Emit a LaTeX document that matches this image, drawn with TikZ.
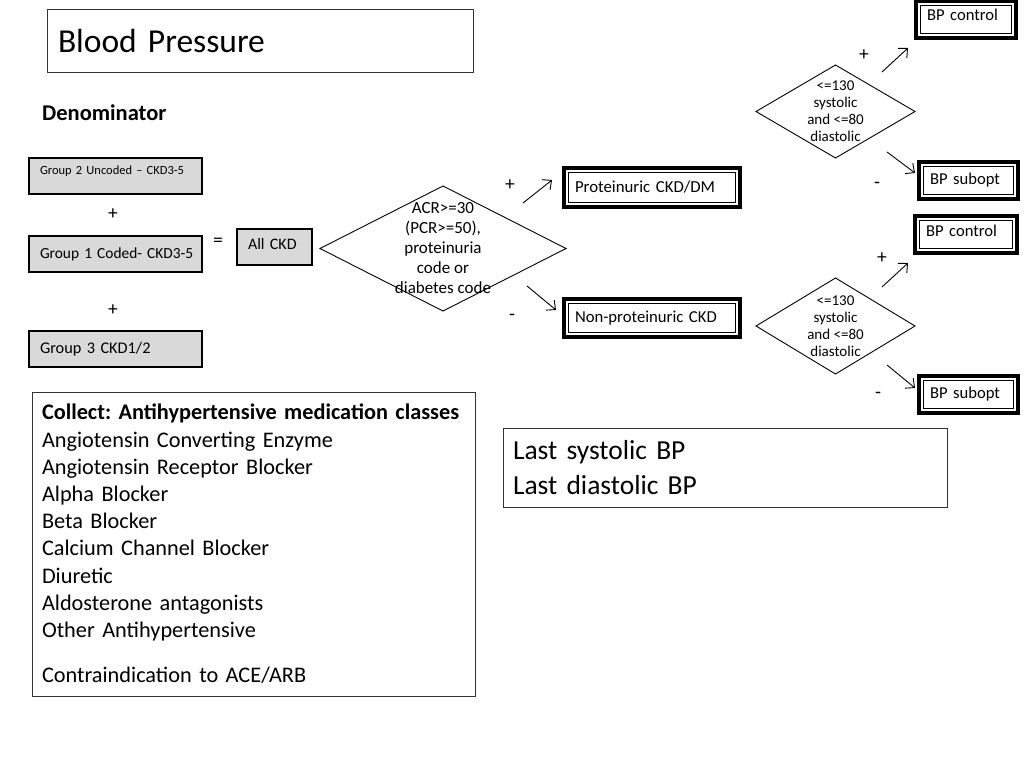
\documentclass[tikz,border=0pt]{standalone}
\usepackage{fontspec}
\setmainfont{Carlito}
\usetikzlibrary{shapes.geometric,arrows.meta}
\frenchspacing
\newcommand{\fs}[2]{\fontsize{#1}{#2}\selectfont}
\newcommand{\innerbox}[1]{\draw[line width=0.8pt] ([xshift=4.5pt,yshift=-4.5pt]#1.north west) rectangle ([xshift=-4.5pt,yshift=4.5pt]#1.south east);}
\tikzset{
  plainbox/.style={draw=black!80, line width=0.9pt, outer sep=0pt, anchor=north west, align=left},
  graybox/.style={draw=black, line width=1.8pt, fill=black!15, outer sep=0pt, anchor=north west, align=left, inner xsep=0pt, execute at begin node=\hspace*{11pt}},
  dbox/.style={draw=black, line width=3.6pt, outer sep=0pt, anchor=north west, align=left, inner xsep=0pt, execute at begin node=\hspace*{11pt}},
  dia/.style={draw=black, line width=0.9pt, shape=diamond, inner sep=0pt, outer sep=0pt},
  sign/.style={inner sep=0pt, font=\fs{19.5}{19.5}},
  arr/.style={line width=0.9pt, -{Straight Barb[length=7pt,width=13pt,line width=0.9pt]}}
}
\begin{document}
\begin{tikzpicture}[x=1pt,y=-1pt]
\useasboundingbox (0,0) rectangle (1024,768);
% title
\node[plainbox, minimum width=426pt, minimum height=63pt, text width=404pt, inner xsep=11pt, font=\fs{33.5}{38}] (title) at (47,9.5) {Blood Pressure};
\node[anchor=base west, inner sep=0pt, font=\bfseries\fs{22.5}{26}] (denom) at (42,120) {Denominator};
% groups
\node[graybox, minimum width=173pt, text width=173pt, inner ysep=6pt, text height=10pt, text depth=14pt, font=\fs{12.5}{14}] (g2) at (29,158) {Group 2 Uncoded -- CKD3-5};
\node[sign] (p1) at (113,214) {+};
\node[graybox, minimum width=173pt, minimum height=36pt, text width=173pt, font=\fs{15.4}{18}] (g1) at (29,236) {Group 1 Coded- CKD3-5};
\node[sign] (eq) at (218,242) {=};
\node[graybox, minimum width=75pt, minimum height=36pt, text width=75pt, font=\fs{16}{18}, text height=13pt, text depth=9pt] (all) at (237,229) {All CKD};
\node[sign] (p2) at (113,310) {+};
\node[graybox, minimum width=173pt, minimum height=36pt, text width=173pt, font=\fs{16.3}{18}] (g3) at (29,331) {Group 3 CKD1/2};
% diamond 1
\node[dia, minimum width=246pt, minimum height=125pt] (d1) at (443,248.5) {};
\node[align=center, inner sep=0pt, font=\fs{17}{20}] (d1t) at (d1.center) {ACR>=30\\(PCR>=50),\\proteinuria\\code or\\diabetes code};
% proteinuric boxes
\node[dbox, minimum width=176pt, minimum height=39pt, text width=176pt, font=\fs{16.8}{18}] (prot) at (564,168) {Proteinuric CKD/DM};
\innerbox{prot}
\node[dbox, minimum width=176pt, minimum height=38pt, text width=176pt, font=\fs{16.7}{18}] (nonprot) at (564,299) {Non-proteinuric CKD};
\innerbox{nonprot}
\coordinate (a1s) at (523,203); \coordinate (a1e) at (552,180);
\coordinate (a2s) at (527,286); \coordinate (a2e) at (556,310);
\draw[arr] (a1s) -- (a1e);
\draw[arr] (a2s) -- (a2e);
\node[sign] (pp) at (510,185) {+};
\node[sign] (mm) at (512,317) {-};
% diamond 2 (upper)
\node[dia, minimum width=159pt, minimum height=93pt] (d2) at (835.5,111.5) {};
\node[align=center, inner sep=0pt, font=\fs{15}{17}] (d2t) at (d2.center) {<=130\\systolic\\and <=80\\diastolic};
\node[dbox, minimum width=100pt, minimum height=37pt, text width=100pt, font=\fs{16.6}{18}, text height=11pt, text depth=8pt] (bc1) at (916,1) {BP control};
\innerbox{bc1}
\node[dbox, minimum width=99pt, minimum height=37pt, text width=99pt, font=\fs{16.6}{18}] (bs1) at (919,162) {BP subopt};
\innerbox{bs1}
\coordinate (a3s) at (882,72); \coordinate (a3e) at (908,48);
\coordinate (a4s) at (887,152); \coordinate (a4e) at (915,173);
\draw[arr] (a3s) -- (a3e);
\draw[arr] (a4s) -- (a4e);
\node[sign] (p3) at (864,55) {+};
\node[sign] (m3) at (877,185) {-};
% diamond 3 (lower)
\node[dia, minimum width=159pt, minimum height=96pt] (d3) at (835.5,326) {};
\node[align=center, inner sep=0pt, font=\fs{15}{17}] (d3t) at (d3.center) {<=130\\systolic\\and <=80\\diastolic};
\node[dbox, minimum width=102pt, minimum height=37pt, text width=102pt, font=\fs{16.6}{18}, text height=11pt, text depth=8pt] (bc2) at (915,216) {BP control};
\innerbox{bc2}
\node[dbox, minimum width=99pt, minimum height=37pt, text width=99pt, font=\fs{16.6}{18}] (bs2) at (919,376) {BP subopt};
\innerbox{bs2}
\coordinate (a5s) at (882,287); \coordinate (a5e) at (908,263);
\coordinate (a6s) at (887,365); \coordinate (a6e) at (915,388);
\draw[arr] (a5s) -- (a5e);
\draw[arr] (a6s) -- (a6e);
\node[sign] (p5) at (882,258) {+};
\node[sign] (m6) at (878,395) {-};
% collect box
\node[plainbox, minimum width=443pt, minimum height=304pt, text width=423pt, inner xsep=10pt, font=\fs{22.3}{27.2}] (collect) at (32,392) {\textbf{Collect: Antihypertensive medication classes}\\
Angiotensin Converting Enzyme\\
Angiotensin Receptor Blocker\\
Alpha Blocker\\
Beta Blocker\\
Calcium Channel Blocker\\
Diuretic\\
Aldosterone antagonists\\
Other Antihypertensive\\[18pt]
Contraindication to ACE/ARB};
% last BP box
\node[plainbox, minimum width=444pt, minimum height=79pt, text width=424pt, inner xsep=10pt, font=\fs{27.5}{35}] (last) at (503,428) {Last systolic BP\\Last diastolic BP};
\end{tikzpicture}
\end{document}
